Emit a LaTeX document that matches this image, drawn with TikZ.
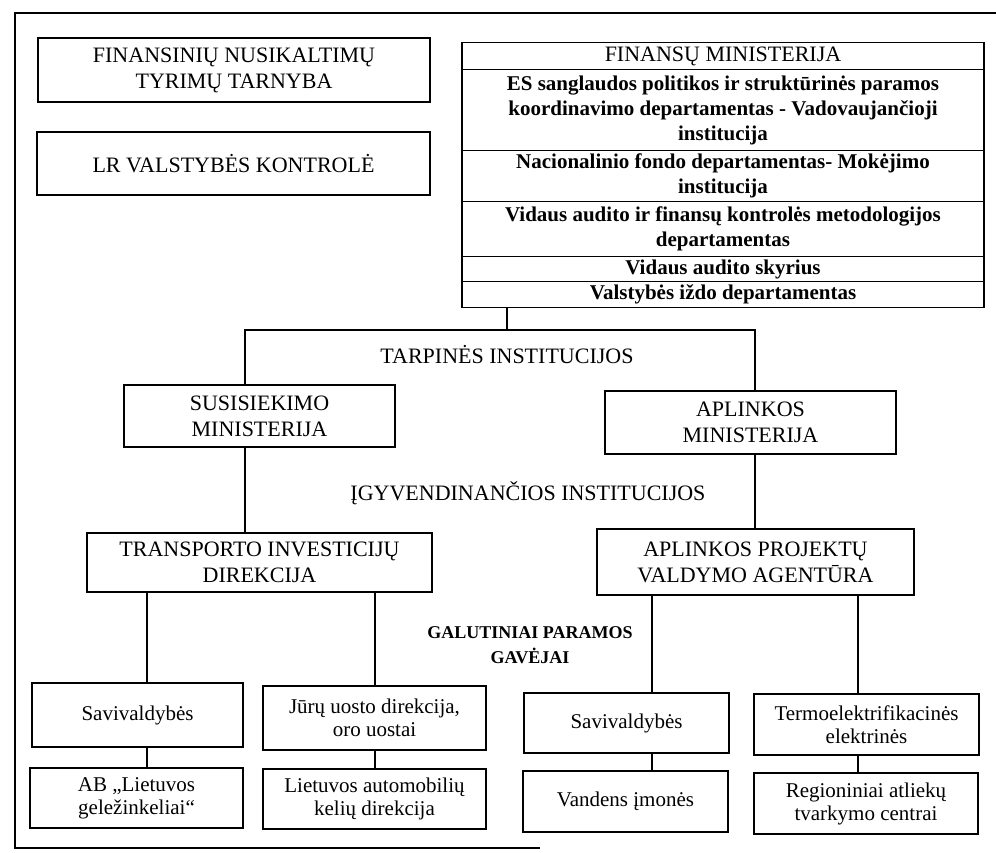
\documentclass[tikz,border=0pt]{standalone}
\usepackage{fontspec}
\setmainfont{Liberation Serif}
\begin{document}
\begin{tikzpicture}[x=1pt,y=-1pt,
  conn/.style={line width=1.1pt},
  box/.style={draw, line width=1.1pt, inner sep=0pt, align=center, font=\fontsize{22}{26}\selectfont},
  row/.style={draw, line width=1.1pt, inner sep=0pt, align=center, minimum width=522pt, anchor=north, font=\bfseries\fontsize{21}{25}\selectfont},
  small/.style={draw, line width=1.1pt, inner sep=0pt, align=center, font=\fontsize{21}{23}\selectfont},
  lbl/.style={inner sep=0pt, align=center, font=\fontsize{22}{26}\selectfont}]
\useasboundingbox (0,0) rectangle (996,853);
% outer frame
\draw[line width=1.1pt] (996,13) -- (15,13) -- (15,848) -- (540,848);
% top-left boxes
\node[box, minimum width=392pt, minimum height=64pt] (fntt) at (234,70) {FINANSINIŲ NUSIKALTIMŲ\\TYRIMŲ TARNYBA};
\node[box, minimum width=393pt, minimum height=63pt] (lrvk) at (233.5,163.5) {LR VALSTYBĖS KONTROLĖ};
% ministry stack
\node[row, minimum height=27pt, font=\fontsize{22}{26}\selectfont] (r1) at (723,42) {FINANSŲ MINISTERIJA};
\node[row, minimum height=81pt] (r2) at (723,69) {ES sanglaudos politikos ir struktūrinės paramos\\koordinavimo departamentas - Vadovaujančioji\\institucija};
\node[row, minimum height=51pt] (r3) at (723,150) {Nacionalinio fondo departamentas- Mokėjimo\\institucija};
\node[row, minimum height=55pt] (r4) at (723,201) {Vidaus audito ir finansų kontrolės metodologijos\\departamentas};
\node[row, minimum height=25pt] (r5) at (723,256) {Vidaus audito skyrius};
\node[row, minimum height=26pt] (r6) at (723,281) {Valstybės iždo departamentas};
% intermediate
\node[lbl] (tarp) at (507,355) {TARPINĖS INSTITUCIJOS};
\node[box, minimum width=271pt, minimum height=62pt] (sus) at (259.5,416) {SUSISIEKIMO\\MINISTERIJA};
\node[box, minimum width=291pt, minimum height=63pt] (apl) at (750.5,422.5) {APLINKOS\\MINISTERIJA};
% implementing
\node[lbl] (igyv) at (528,493) {ĮGYVENDINANČIOS INSTITUCIJOS};
\node[box, minimum width=345pt, minimum height=59pt] (tid) at (259.5,562.5) {TRANSPORTO INVESTICIJŲ\\DIREKCIJA};
\node[box, minimum width=317pt, minimum height=66pt] (apva) at (755.5,562) {APLINKOS PROJEKTŲ\\VALDYMO AGENTŪRA};
% final beneficiaries
\node[inner sep=0pt, align=center, font=\bfseries\fontsize{18}{25}\selectfont] (galut) at (530,645) {GALUTINIAI PARAMOS\\GAVĖJAI};
\node[small, minimum width=211pt, minimum height=64pt] (sav1) at (137.5,715) {Savivaldybės};
\node[small, minimum width=213pt, minimum height=60pt] (ab) at (136.5,798) {AB „Lietuvos\\geležinkeliai“};
\node[small, minimum width=223pt, minimum height=64pt] (juru) at (374.5,718) {Jūrų uosto direkcija,\\oro uostai};
\node[small, minimum width=223pt, minimum height=60pt] (lakd) at (374.5,799) {Lietuvos automobilių\\kelių direkcija};
\node[small, minimum width=205pt, minimum height=60pt] (sav2) at (626.5,723) {Savivaldybės};
\node[small, minimum width=205pt, minimum height=61pt] (vand) at (625.5,801.5) {Vandens įmonės};
\node[small, minimum width=225pt, minimum height=61pt] (termo) at (866.5,724.5) {Termoelektrifikacinės\\elektrinės};
\node[small, minimum width=224pt, minimum height=61pt] (reg) at (866,803.5) {Regioniniai atliekų\\tvarkymo centrai};
% junction coordinates
\coordinate (jT) at (507,330);
\coordinate (jL) at (245,330);
\coordinate (jR) at (755,330);
\coordinate (xa) at (147,0);
\coordinate (xb) at (375,0);
\coordinate (xc) at (652,0);
\coordinate (xd) at (858,0);
% connectors
\draw[conn] (jT |- r6.south) -- (jT);
\draw[conn] (jL |- sus.north) -- (jL) -- (jR) -- (jR |- apl.north);
\draw[conn] (jL |- sus.south) -- (jL |- tid.north);
\draw[conn] (jR |- apl.south) -- (jR |- apva.north);
\draw[conn] (xa |- tid.south) -- (xa |- sav1.north);
\draw[conn] (xa |- sav1.south) -- (xa |- ab.north);
\draw[conn] (xb |- tid.south) -- (xb |- juru.north);
\draw[conn] (xb |- juru.south) -- (xb |- lakd.north);
\draw[conn] (xc |- apva.south) -- (xc |- sav2.north);
\draw[conn] (xc |- sav2.south) -- (xc |- vand.north);
\draw[conn] (xd |- apva.south) -- (xd |- termo.north);
\draw[conn] (xd |- termo.south) -- (xd |- reg.north);
\end{tikzpicture}
\end{document}
